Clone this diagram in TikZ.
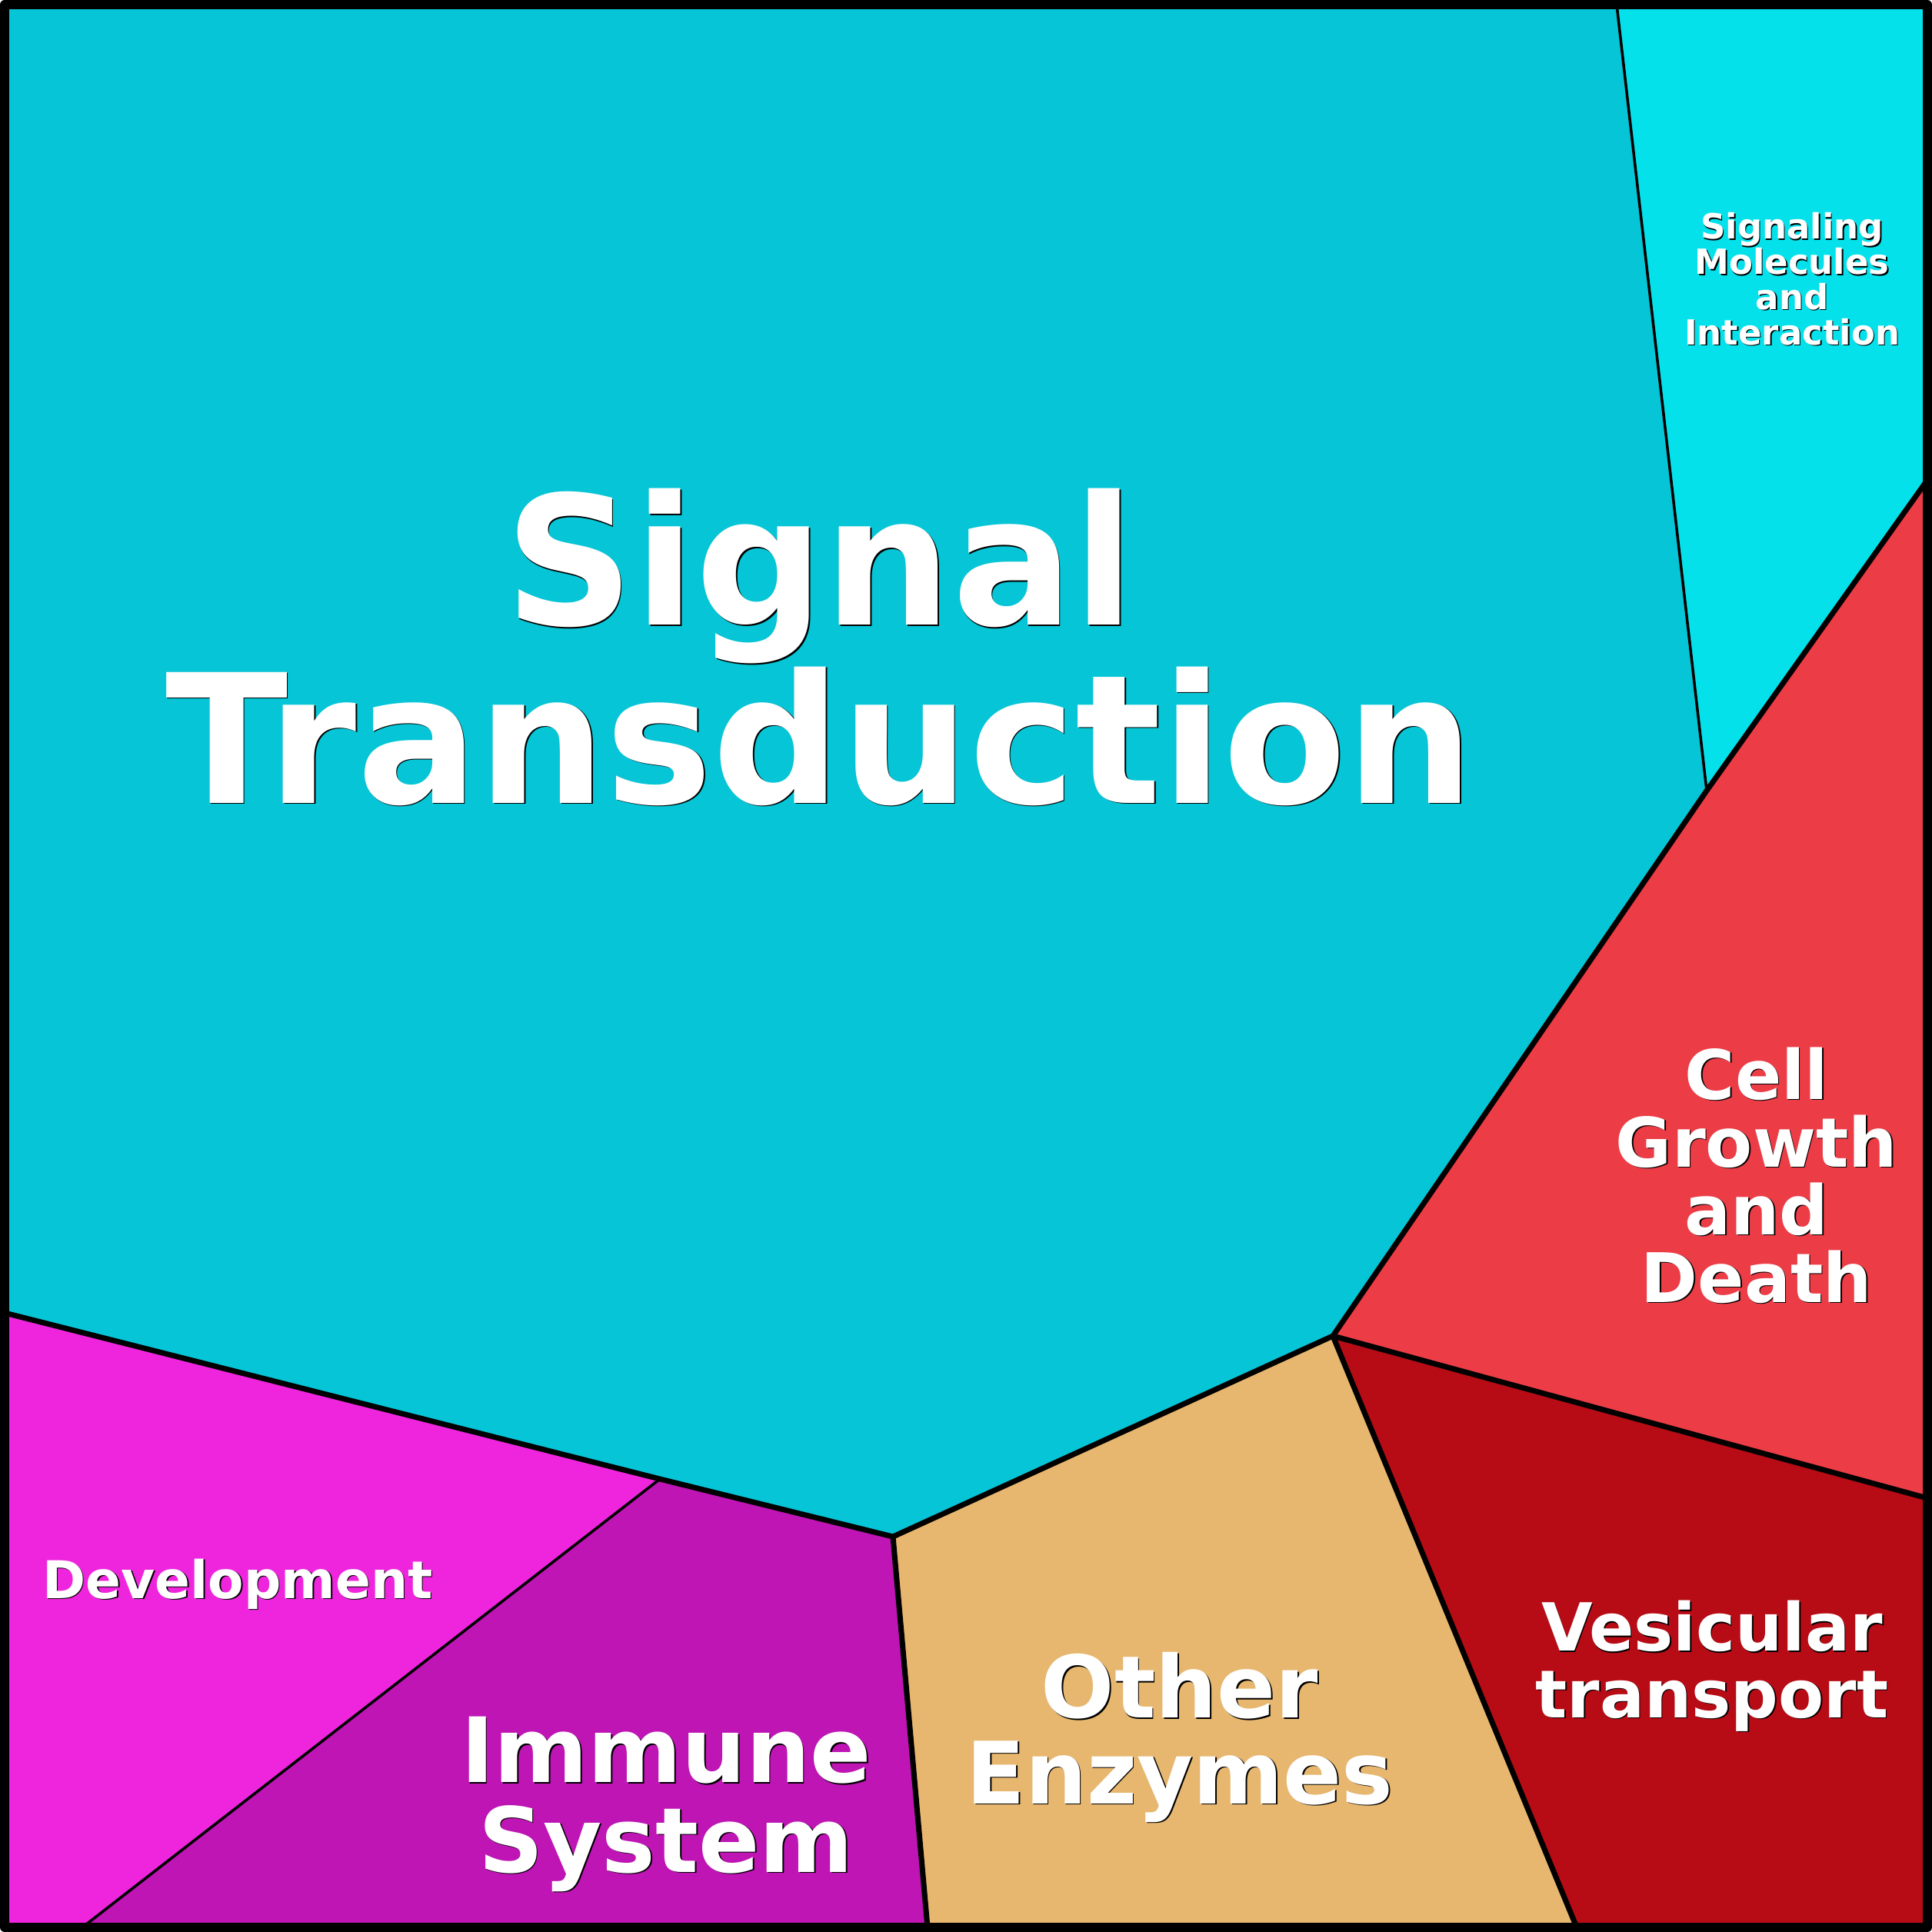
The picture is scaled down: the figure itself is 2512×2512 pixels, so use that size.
\documentclass[tikz,border=0pt]{standalone}
\usepackage{fontspec}
\setmainfont{DejaVu Sans}
\definecolor{cST}{HTML}{06C5D6}
\definecolor{cSM}{HTML}{04E1EB}
\definecolor{cCG}{HTML}{EC3C46}
\definecolor{cVT}{HTML}{B70C15}
\definecolor{cOE}{HTML}{E7B76F}
\definecolor{cIS}{HTML}{BE15B4}
\definecolor{cDV}{HTML}{EF25DE}
\tikzset{
  thickedge/.style={line width=2pt, line join=round, line cap=round},
  thinedge/.style={line width=1pt, line cap=round},
  frame/.style={line width=3.4pt, line join=round},
  lbl/.style={text=white, align=center, anchor=base, inner sep=0pt},
  lblshadow/.style={lbl, text=black, xshift=0.45pt, yshift=-0.45pt},
}
\newcommand\shadowlabel[5]{%
  \node[lblshadow, font={\fontsize{#3}{#4}\selectfont\bfseries}] (#1-sh) at (#2) {#5};
  \node[lbl, font={\fontsize{#3}{#4}\selectfont\bfseries}] (#1) at (#2) {#5};
}
\begin{document}
\begin{tikzpicture}[x=0.01cm, y=-0.01cm]
\useasboundingbox (0,0) rectangle (2512,2512);
% vertices
\coordinate (TL) at (6,6);
\coordinate (TR) at (2506,6);
\coordinate (BR) at (2506,2506);
\coordinate (BL) at (6,2506);
\coordinate (A) at (2102,6);
\coordinate (B) at (2219,1028);
\coordinate (C) at (2506,624);
\coordinate (D) at (1733,1737);
\coordinate (E) at (2506,1948);
\coordinate (F) at (2050,2506);
\coordinate (G) at (1161,1998);
\coordinate (H) at (1206,2506);
\coordinate (I) at (858,1923);
\coordinate (J) at (6,1707);
\coordinate (K) at (107,2506);
% regions
\fill[cST] (TL) -- (A) -- (B) -- (D) -- (G) -- (I) -- (J) -- cycle;
\fill[cSM] (A) -- (TR) -- (C) -- (B) -- cycle;
\fill[cCG] (B) -- (C) -- (E) -- (D) -- cycle;
\fill[cVT] (D) -- (E) -- (BR) -- (F) -- cycle;
\fill[cOE] (G) -- (D) -- (F) -- (H) -- cycle;
\fill[cIS] (I) -- (G) -- (H) -- (K) -- cycle;
\fill[cDV] (J) -- (I) -- (K) -- (BL) -- cycle;
% borders between regions
\draw[thinedge] (A) -- (B);
\draw[thinedge] (I) -- (K);
\draw[thickedge] (J) -- (I) -- (G) -- (D) -- (B) -- (C);
\draw[thickedge] (D) -- (E);
\draw[thickedge] (D) -- (F);
\draw[thickedge] (G) -- (H);
\draw[frame] (TL) rectangle (BR);
% labels (anchor = baseline of last line)
\coordinate (pST) at (1066,1044);
\coordinate (pSM) at (2330,448);
\coordinate (pCG) at (2284,1693);
\coordinate (pVT) at (2226,2233);
\coordinate (pOE) at (1534,2345);
\coordinate (pIS) at (866,2434);
\coordinate (pDV) at (309,2078);
\shadowlabel{st}{pST}{66.4}{65.7}{Signal\\Transduction}
\shadowlabel{sm}{pSM}{12.8}{13.0}{Signaling\\Molecules\\and\\Interaction}
\shadowlabel{cg}{pCG}{25.3}{25.0}{Cell\\Growth\\and\\Death}
\shadowlabel{vt}{pVT}{24.5}{24.5}{Vesicular\\transport}
\shadowlabel{oe}{pOE}{31.9}{31.6}{Other\\Enzymes}
\shadowlabel{is}{pIS}{33.3}{33.0}{Immune\\System}
\shadowlabel{dv}{pDV}{19.25}{19.25}{Development}
\end{tikzpicture}
\end{document}
